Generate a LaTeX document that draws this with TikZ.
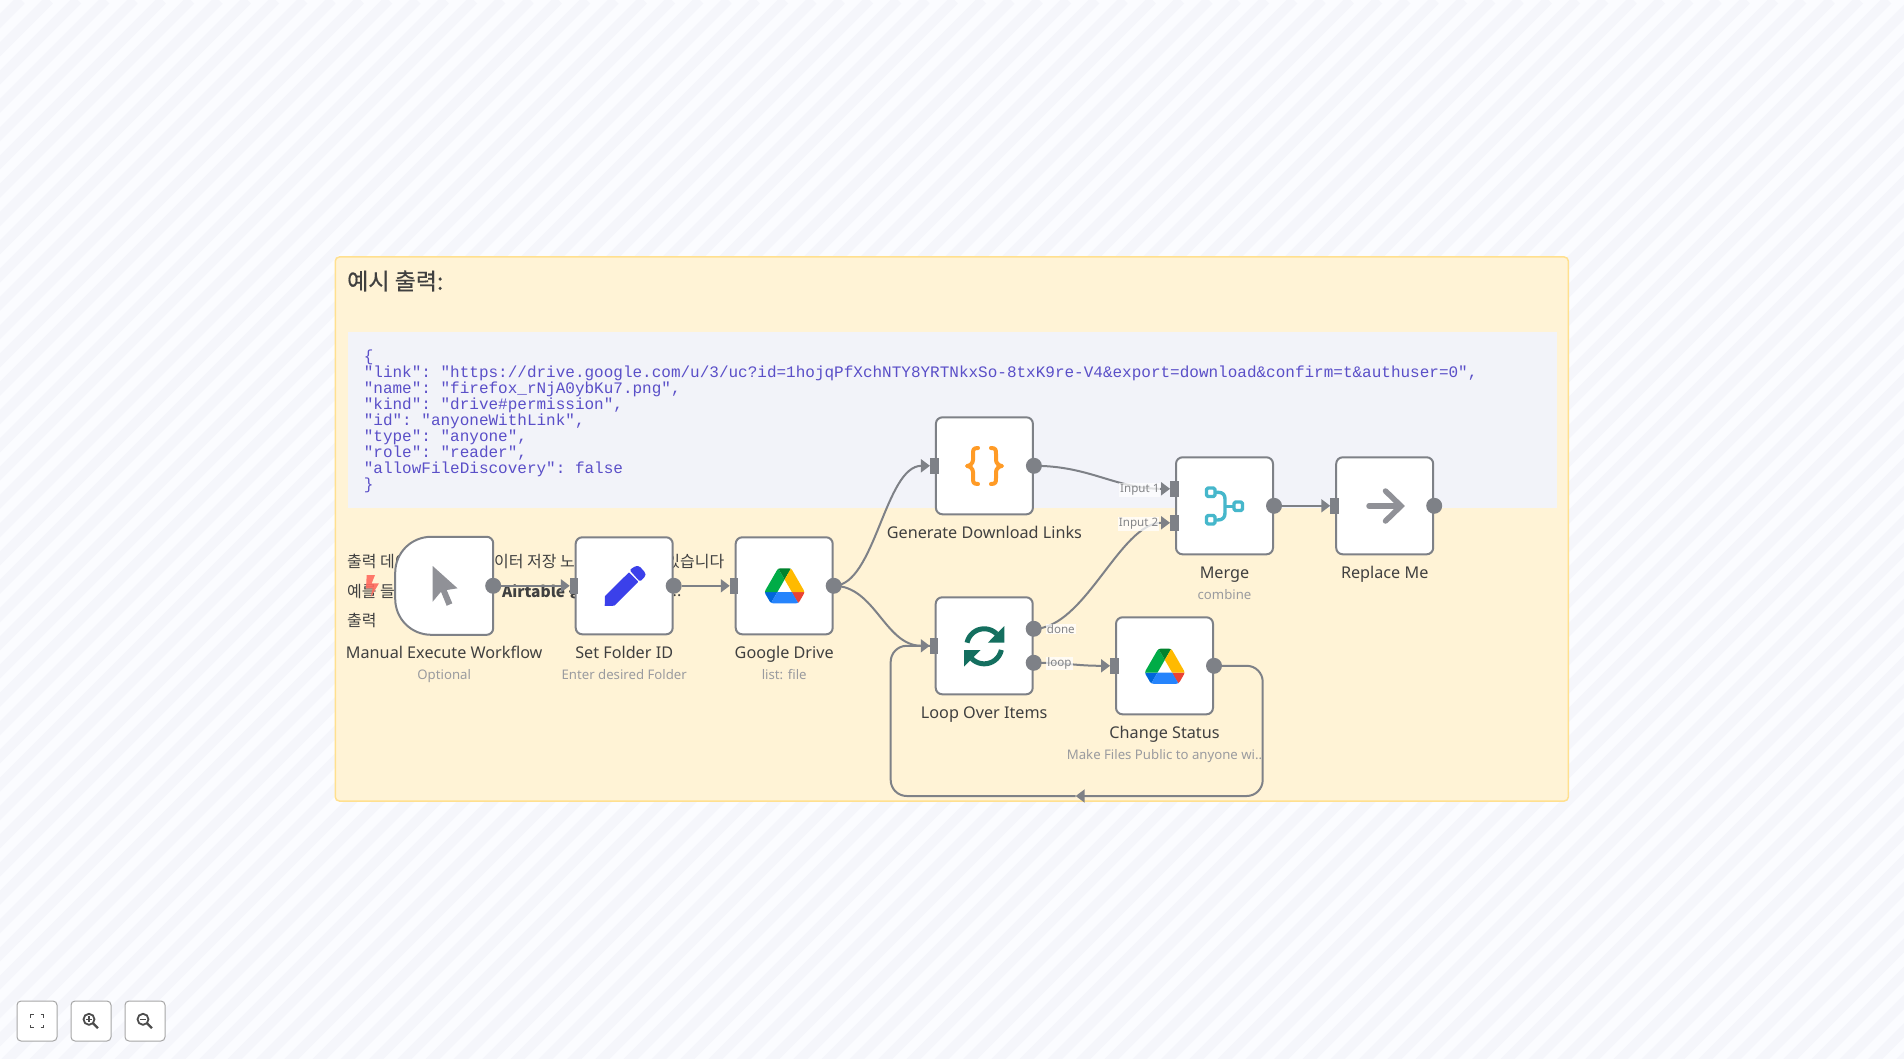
\documentclass[tikz,border=0pt]{standalone}
\usepackage{fontspec}
\setmainfont{Noto Sans}
\setmonofont{Liberation Mono}
\newfontfamily\krfont{Noto Sans CJK KR}
\newfontfamily\krtitle[FakeBold=.5]{Noto Sans CJK KR}
\usetikzlibrary{arrows.meta, positioning, calc}

\newcommand{\pxfont}[1]{\fontsize{#1}{#1}\selectfont}

\definecolor{bgLight}{HTML}{FBFCFF}
\definecolor{bgStripe}{HTML}{F5F6FB}
\definecolor{panelFill}{HTML}{FFF3D6}
\definecolor{panelLine}{HTML}{FFE08F}
\definecolor{codeFill}{HTML}{F2F3F9}
\definecolor{codeInk}{HTML}{5A4FC8}
\definecolor{wire}{HTML}{7E8187}
\definecolor{iconGray}{HTML}{909197}
\definecolor{nameText}{HTML}{404040}
\definecolor{subText}{HTML}{9A9B9F}
\definecolor{penBlue}{HTML}{3B40EA}
\definecolor{loopGreen}{HTML}{146F5F}
\definecolor{mergeTeal}{HTML}{46B7CB}
\definecolor{braceOrange}{HTML}{FF9B26}
\definecolor{boltRed}{HTML}{FF6A5E}
\definecolor{gdDarkBlue}{HTML}{0066DA}
\definecolor{gdGreen}{HTML}{00AC47}
\definecolor{gdRed}{HTML}{EA4335}
\definecolor{gdDarkGreen}{HTML}{00832D}
\definecolor{gdBlue}{HTML}{2684FC}
\definecolor{gdYellow}{HTML}{FFBA00}

\tikzset{
    drivelogo/.pic={
        \begin{scope}[shift={(-43.65,-39)}]
        \fill[gdDarkBlue] (0,53) -- (27.5,53) -- (13.75,76.8) -- (10.45,73.5) -- (6.6,66.85) -- (1.2,57.5) -- cycle;
        \fill[gdGreen] (43.65,25) -- (29.9,1.2) -- (26.6,4.5) -- (1.2,48.5) -- (0,53) -- (27.5,53) -- cycle;
        \fill[gdRed] (73.55,76.8) -- (76.85,73.5) -- (86.1,57.5) -- (87.3,53) -- (59.8,53) -- (65.65,64.5) -- cycle;
        \fill[gdDarkGreen] (43.65,25) -- (57.4,1.2) -- (52.9,0) -- (34.4,0) -- (29.9,1.2) -- cycle;
        \fill[gdBlue] (59.8,53) -- (27.5,53) -- (13.75,76.8) -- (18.25,78) -- (69.05,78) -- (73.55,76.8) -- cycle;
        \fill[gdYellow] (73.4,26.5) -- (60.7,4.5) -- (57.4,1.2) -- (43.65,25) -- (59.8,53) -- (87.3,53) -- (86.05,48.5) -- cycle;
        \end{scope}
    }
}

\begin{document}
\begin{tikzpicture}[
        x=1pt, y=-1pt,
        nodebox/.style={draw=wire, line width=2pt, fill=white, rounded corners=6.5pt, minimum width=97pt, minimum height=97pt, inner sep=0pt},
        namelabel/.style={font=\pxfont{16.2}, text=nameText, inner sep=0pt, text height=12pt, text depth=3pt},
        sublabel/.style={font=\pxfont{13.2}, text=subText, inner sep=0pt, text height=10pt, text depth=3pt},
        outport/.style={circle, fill=wire, minimum size=16pt, inner sep=0pt},
        inport/.style={rectangle, fill=wire, minimum width=8.5pt, minimum height=16pt, inner sep=0pt, xshift=-.5pt},
        wireline/.style={draw=wire, line width=2pt, -{Triangle[width=13pt,length=9pt]}},
        edgelabel/.style={font=\pxfont{11.6}, text=subText!85!black, fill=white, fill opacity=.75, text opacity=1, inner sep=1pt},
        bodytext/.style={font=\krfont\pxfont{16}, text=nameText, inner sep=0pt, text height=12pt, text depth=3pt},
        toolbtn/.style={draw=black!35, line width=1pt, fill=white, rounded corners=4pt, minimum size=40pt, inner sep=0pt},
        toolicon/.style={draw=black!70, line width=1.8pt}
    ]
    \useasboundingbox (0,0) rectangle (1904,1059);

    % Striped canvas
    \begin{scope}
        \clip (0,0) rectangle (1904,1059);
        \fill[bgLight] (0,0) rectangle (1904,1059);
        \foreach \c in {0,...,105}
            \draw[bgStripe, line width=10pt] ({\c*28.284+21},0) -- ++(-1100,1100);
    \end{scope}

    % Sticky note
    \node[draw=panelLine, line width=1.5pt, fill=panelFill, rounded corners=4pt, minimum width=1233pt, minimum height=544pt, inner sep=0pt] (note) at (951.8,529) {};
    \node[anchor=west, inner sep=0pt, font=\krtitle\pxfont{23}, text=nameText] (noteTitle) at (347,281) {예시 출력:};
    \node[fill=codeFill, minimum width=1209pt, minimum height=175pt, inner sep=0pt] (codeBox) at (952.2,420) {};
    \node[anchor=west, align=left, inner sep=0pt, text=codeInk, font=\ttfamily\fontsize{16}{16}\selectfont] (codeText) at (363.6,421) {\{\\
"link": "https://drive.google.com/u/3/uc?id=1hojqPfXchNTY8YRTNkxSo-8txK9re-V4\&export=download\&confirm=t\&authuser=0",\\
"name": "firefox\_rNjA0ybKu7.png",\\
"kind": "drive\#permission",\\
"id": "anyoneWithLink",\\
"type": "anyone",\\
"role": "reader",\\
"allowFileDiscovery": false\\
\}};

    % Note text behind the nodes
    \node[bodytext, anchor=west] (lineOneA) at (347,563) {출력 데이};
    \node[bodytext, anchor=east] (lineOneB) at (575,563) {이터 저장 노};
    \node[bodytext, anchor=east] (lineOneC) at (724.5,563) {있습니다};
    \node[bodytext, anchor=west] (lineTwoA) at (347,593) {예를 들};
    \node[bodytext, anchor=west, font=\krfont\bfseries\pxfont{15.5}] (lineTwoB) at (502,593) {Airtable 등};
    \node[bodytext, anchor=east, font=\pxfont{16}] (lineTwoC) at (681.5,592) {..};
    \node[bodytext, anchor=west] (lineThree) at (347,621.5) {출력};
    \fill[boltRed, opacity=.9] (366.7,575) -- (375,575) -- (371.7,583.3) -- (379,583.3) -- (370.7,597.3) -- (372.7,588.3) -- (366,588.3) -- cycle;

    % Workflow nodes
    \node[nodebox, draw=none, fill=none, minimum width=96pt, minimum height=96pt] (manual) at (444.2,585.8) {};
    \draw[draw=wire, line width=2pt, fill=white] ($(manual.north west)+(36,0)$) .. controls ($(manual.north west)+(16,0)$) and ($(manual.north west)+(0,16)$) .. ($(manual.north west)+(0,36)$) -- ($(manual.south west)+(0,-36)$) .. controls ($(manual.south west)+(0,-16)$) and ($(manual.south west)+(16,0)$) .. ($(manual.south west)+(36,0)$) [rounded corners=6.5pt] -- (manual.south east) -- (manual.north east) -- ($(manual.north west)+(36,0)$);
    \node[nodebox] (setFolder) at (624.2,585.8) {};
    \node[nodebox] (drive) at (784.2,585.8) {};
    \node[nodebox] (genLinks) at (984.4,465.8) {};
    \node[nodebox] (loopItems) at (984.2,645.8) {};
    \node[nodebox] (changeStatus) at (1164.5,665.8) {};
    \node[nodebox] (merge) at (1224.5,505.8) {};
    \node[nodebox] (replaceMe) at (1384.7,505.8) {};

    % Names and subtitles
    \node[namelabel, below=11pt of manual] (manualName) {Manual Execute Workflow};
    \node[sublabel, below=8.5pt of manualName] (manualSub) {Optional};
    \node[namelabel, below=10.5pt of setFolder] (setName) {Set Folder ID};
    \node[sublabel, below=8.5pt of setName] (setSub) {Enter desired Folder};
    \node[namelabel, below=10.5pt of drive] (driveName) {Google Drive};
    \node[sublabel, below=8.5pt of driveName] (driveSub) {list: file};
    \node[namelabel, below=10.5pt of genLinks] (genName) {Generate Download Links};
    \node[namelabel, below=10.5pt of loopItems] (loopName) {Loop Over Items};
    \node[namelabel, below=10.5pt of changeStatus] (changeName) {Change Status};
    \node[sublabel, below=8.5pt of changeName] (changeSub) {Make Files Public to anyone wi..};
    \node[namelabel, below=10.5pt of merge] (mergeName) {Merge};
    \node[sublabel, below=8.5pt of mergeName] (mergeSub) {combine};
    \node[namelabel, below=10.5pt of replaceMe] (replaceName) {Replace Me};

    % Icons
    \fill[iconGray] (432.7,566) -- (457.5,588.3) -- (446.7,590) -- (452.3,603.3) -- (446.7,605.8) -- (441,591.7) -- (432.7,601.7) -- cycle;
    \fill[penBlue, rounded corners=.5pt] (605,596) -- (629,572.3) -- (638.3,581.7) -- (614.3,605.7) -- (604.7,606) -- cycle;
    \fill[penBlue, rounded corners=1.5pt] (629.5,570) -- (635.5,566) -- (639.3,566) -- (645.5,573) -- (645.5,576) -- (640,581.7) -- cycle;
    \pic[scale=.45] at (784.6,585.8) {drivelogo};
    \pic[scale=.45] at (1164.8,666.2) {drivelogo};
    % braces
    \draw[braceOrange, line width=4pt, line cap=round, line join=round] (978,448) .. controls (973,448) and (973,450) .. (973,454) -- (973,460) .. controls (973,463) and (970,466) .. (967,466) .. controls (970,466) and (973,469) .. (973,472) -- (973,478) .. controls (973,482) and (973,484) .. (978,484);
    \draw[braceOrange, line width=4pt, line cap=round, line join=round] (991,448) .. controls (996,448) and (996,450) .. (996,454) -- (996,460) .. controls (996,463) and (999,466) .. (1002,466) .. controls (999,466) and (996,469) .. (996,472) -- (996,478) .. controls (996,482) and (996,484) .. (991,484);
    % reload arrows
    \foreach \r in {0,180} {
        \begin{scope}[shift={(984.2,646.3)}, rotate=\r]
            \draw[loopGreen, line width=5pt, domain=168:45, samples=25] plot ({17.5*cos(\x)},{-17.5*sin(\x)});
            \fill[loopGreen] (20.2,-20.3) -- (20.2,-3.7) -- (3.7,-3.7) -- cycle;
        \end{scope}
    }
    % merge
    \begin{scope}[mergeTeal, line width=3.4pt, line join=round]
        \draw[rounded corners=1.5pt] (1206.5,488) rectangle (1215,496.5);
        \draw[rounded corners=1.5pt] (1206.5,515.5) rectangle (1215,524);
        \draw[rounded corners=1.5pt] (1234,502) rectangle (1242.5,510.5);
        \draw (1215,492.3) -- (1218,492.3) .. controls (1223,492.3) and (1225,495) .. (1225,499) -- (1225,513) .. controls (1225,517) and (1223,520) .. (1218,520) -- (1215,520);
        \draw (1225,506.2) -- (1234,506.2);
    \end{scope}
    % arrow
    \draw[iconGray, line width=5.5pt, line cap=round] (1369,506) -- (1400,506);
    \draw[iconGray, line width=5.5pt, line cap=round] (1385.5,491) -- (1401,506) -- (1385.5,521);

    % Ports
    \node[outport] (manualOut) at (manual.east) {};
    \node[inport] (setIn) at (setFolder.west) {};
    \node[outport] (setOut) at (setFolder.east) {};
    \node[inport] (driveIn) at (drive.west) {};
    \node[outport] (driveOut) at (drive.east) {};
    \node[inport] (genIn) at (genLinks.west) {};
    \node[outport] (genOut) at (genLinks.east) {};
    \node[inport] (loopIn) at (loopItems.west) {};
    \node[outport] (loopDone) at ($(loopItems.east)+(0,-17)$) {};
    \node[outport] (loopNext) at ($(loopItems.east)+(0,17)$) {};
    \node[inport] (changeIn) at (changeStatus.west) {};
    \node[outport] (changeOut) at (changeStatus.east) {};
    \node[inport] (mergeInA) at ($(merge.west)+(0,-17)$) {};
    \node[inport] (mergeInB) at ($(merge.west)+(0,17)$) {};
    \node[outport] (mergeOut) at (merge.east) {};
    \node[inport] (replaceIn) at (replaceMe.west) {};
    \node[outport] (replaceOut) at (replaceMe.east) {};

    % Connections
    \draw[wireline] (manualOut) -- (setIn);
    \draw[wireline] (setOut) -- (driveIn);
    \draw[wireline] (driveOut.center) .. controls (875,585.8) and (885,465.8) .. (genIn.west);
    \draw[wireline] (driveOut.center) .. controls (875,585.8) and (885,645.8) .. (loopIn.west);
    \draw[wireline] (genOut.center) .. controls (1090,465.8) and (1115,488.8) .. (mergeInA.west);
    \draw[wireline] (loopDone.center) .. controls (1085,628.8) and (1120,522.8) .. (mergeInB.west);
    \draw[wireline] (loopNext.center) .. controls (1070,662.8) and (1075,665.8) .. (changeIn.west);
    \draw[wireline] (mergeOut) -- (replaceIn);

    % Loop back
    \coordinate (backRight) at (1262.7,796);
    \coordinate (backTip) at (1075.7,796);
    \coordinate (backLeft) at (890.7,796);
    \draw[wireline, rounded corners=16pt] (changeOut.center) -| (backRight) -- (backTip);
    \draw[draw=wire, line width=2pt, rounded corners=16pt] (backTip) -- (backLeft) |- (loopIn.west);

    % Edge labels
    \node[edgelabel] (labelInA) at (1139.8,490) {Input 1};
    \node[edgelabel] (labelInB) at (1138.6,524) {Input 2};
    \node[edgelabel] (labelDone) at (1060.8,629) {done};
    \node[edgelabel] (labelLoop) at (1059.5,663.5) {loop};

    % Canvas buttons
    \node[toolbtn] (fitBtn) at (37,1021) {};
    \node[toolbtn] (plusBtn) at (91,1021) {};
    \node[toolbtn] (minusBtn) at (145,1021) {};
    \begin{scope}[shift={(fitBtn)}]
        \foreach \sx/\sy in {1/1,-1/1,1/-1,-1/-1}
            \draw[toolicon] (\sx*3.5,\sy*6.5) -- (\sx*6.5,\sy*6.5) -- (\sx*6.5,\sy*3.5);
    \end{scope}
    \foreach \b in {plusBtn,minusBtn} {
        \begin{scope}[shift={(\b)}]
            \draw[toolicon] (-2,-1.7) circle[radius=5.5];
            \draw[toolicon, line width=2.4pt] (2,2.3) -- (7,7.2);
            \draw[toolicon, line width=1.4pt] (-5,-1.7) -- (1,-1.7);
        \end{scope}
    }
    \draw[toolicon, line width=1.4pt] ($(plusBtn)+(-2,-4.7)$) -- ($(plusBtn)+(-2,1.3)$);
\end{tikzpicture}
\end{document}
